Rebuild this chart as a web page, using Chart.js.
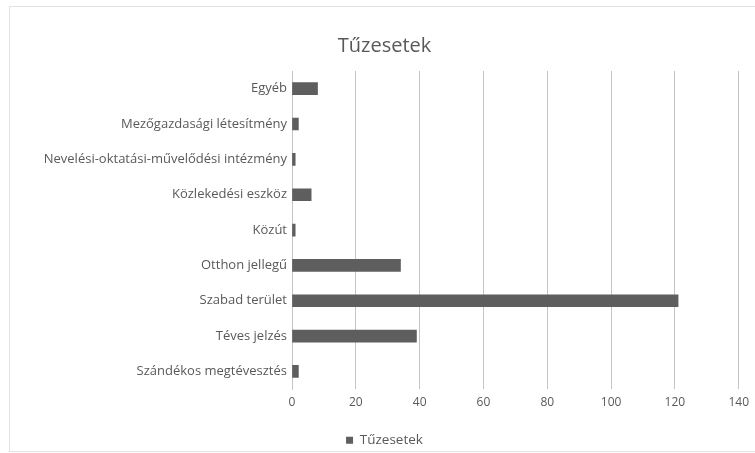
<!DOCTYPE html>
<html>
<head>
<meta charset="utf-8">
<script src="https://cdn.jsdelivr.net/npm/chart.js@4/dist/chart.umd.min.js"></script>
<style>
    body { margin: 0; background: #fff; }
    #wrap { position: relative; width: 755px; height: 453px; overflow: hidden; }
    #frame { position: absolute; left: 9px; top: 6px; width: 760px; height: 444px; border: 1px solid #e3e3e3; }
    canvas { position: absolute; left: 0; top: 0; }
</style>
</head>
<body>
<div id="wrap">
    <div id="frame"></div>
    <canvas id="chart" width="755" height="453"></canvas>
</div>
<script>
const categories = [
    'Egyéb',
    'Mezőgazdasági létesítmény',
    'Nevelési-oktatási-művelődési intézmény',
    'Közlekedési eszköz',
    'Közút',
    'Otthon jellegű',
    'Szabad terület',
    'Téves jelzés',
    'Szándékos megtévesztés'
];
const fireCases = [8, 2, 1, 6, 1, 34, 121, 39, 2];
const xTicks = [0, 20, 40, 60, 80, 100, 120, 140];

const FONT = "'Open Sans', 'Noto Sans', sans-serif";
Chart.defaults.font = { ...Chart.defaults.font, family: FONT };
Chart.defaults.color = '#595959';

const ctx = document.getElementById('chart');
const chart = new Chart(ctx, {
    type: 'bar',
    data: {
        labels: categories,
        datasets: [{
            label: 'Tűzesetek',
            data: fireCases,
            backgroundColor: '#5e5e5e',
            borderWidth: 0,
            barThickness: 12
        }]
    },
    options: {
        indexAxis: 'y',
        responsive: false,
        animation: false,
        layout: { padding: { left: 16, right: 2, top: 28, bottom: -4 } },
        plugins: {
            title: {
                display: true,
                text: 'Tűzesetek',
                color: '#595959',
                font: { size: 20, weight: 'normal', family: FONT },
                padding: { top: 6, bottom: 13 }
            },
            legend: {
                position: 'bottom',
                labels: {
                    boxWidth: 7, boxHeight: 7,
                    color: '#595959',
                    font: { size: 13.5 },
                    padding: 18
                }
            },
            tooltip: { enabled: false }
        },
        scales: {
            x: {
                min: 0, max: 140,
                afterBuildTicks: (scale) => { scale.ticks = xTicks.map(v => ({ value: v })); },
                grid: { color: '#c4c4c4', drawTicks: false },
                border: { display: false },
                ticks: { font: { size: 12 }, color: '#595959', padding: 6 }
            },
            y: {
                afterFit: (scale) => { scale.width = 276; },
                grid: { display: false, drawTicks: false },
                border: { display: true, color: '#c4c4c4' },
                ticks: { font: { size: 13 }, color: '#595959', padding: 5 }
            }
        }
    }
});
</script>
</body>
</html>
